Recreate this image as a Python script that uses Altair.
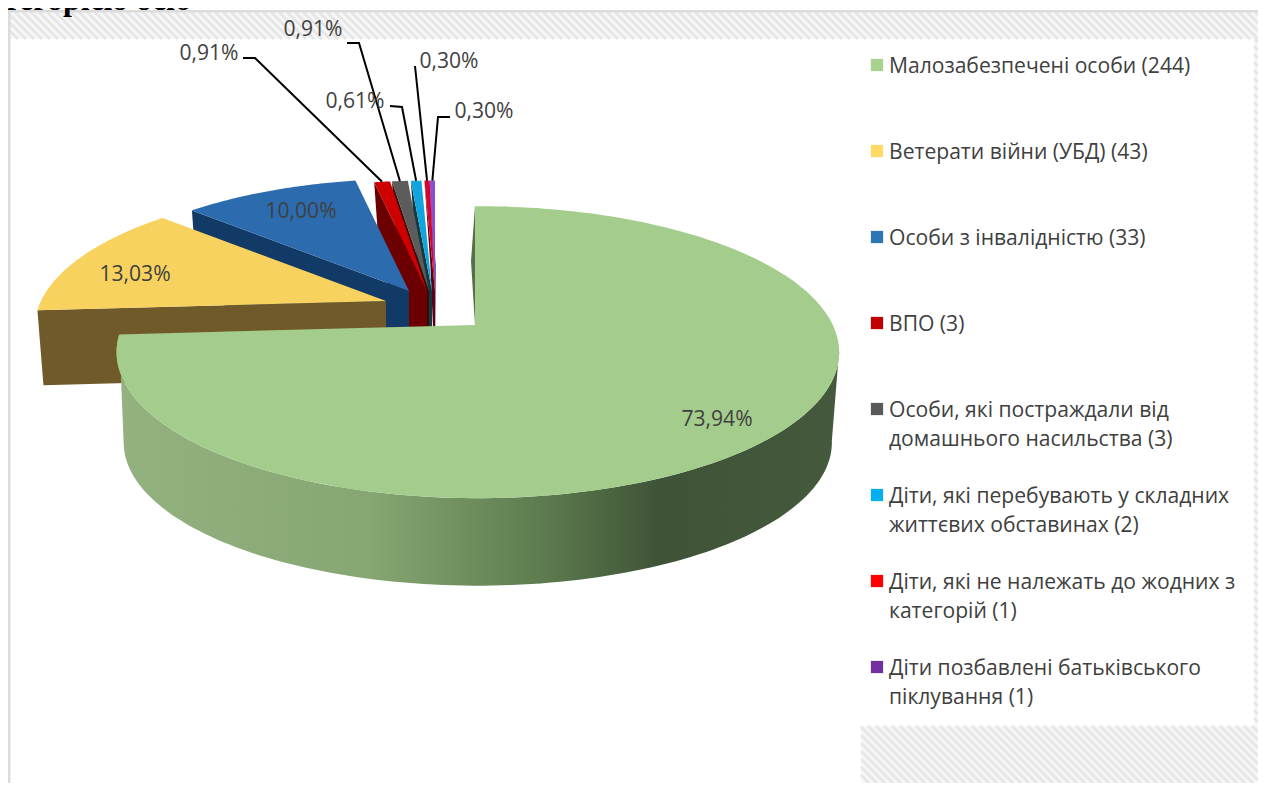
import math
import altair as alt
import pandas as pd

# ---- chart values ----
categories = ["Малозабезпечені особи (244)", "Ветерати війни (УБД) (43)", "Особи з інвалідністю (33)", "ВПО (3)",
              "Особи, які постраждали від\nдомашнього насильства (3)",
              "Діти, які перебувають у складних\nжиттєвих обставинах (2)",
              "Діти, які не належать до жодних з\nкатегорій (1)",
              "Діти позбавлені батьківського\nпіклування (1)"]
counts = [244, 43, 33, 3, 3, 2, 1, 1]
pct_labels = ["73,94%", "13,03%", "10,00%", "0,91%", "0,91%", "0,61%", "0,30%", "0,30%"]
legend_colors = ["#a9d18e", "#ffd966", "#2e75b6", "#c00000", "#595959", "#00b0f0", "#ff0000", "#7030a0"]
top_colors = ["#a4cc8c", "#f8d25f", "#2c6cae", "#cf0000", "#5c5c5c", "#12a4dc", "#d4062e", "#8a4fd0"]
wall_colors = ["#4f6b42", "#705a2a", "#123a66", "#6c0000", "#3a0a0a", "#123a40", "#5a0010", "#401a60"]

# ---- layout (page pixels) ----
W, H = 1258, 783   # chart box end
K = 0.186          # perspective strength
TILT = 0.397       # vertical squash
SKEW = 0.008
apex = [(475, 325), (386, 301), (409, 291), (427, 291), (429, 291), (432, 291), (435, 291), (435, 291)]
radius = [355, 345, 335, 330, 330, 330, 330, 330]
depth = [91, 75, 85, 85, 85, 85, 85, 85]
label_pos = [(717, 420), (135, 275), (301, 212), (209, 54), (313, 30), (355, 102), (449, 62), (484, 112)]
leader_elbows = {3: [(243, 58), (255, 58)], 4: [(347, 43), (359, 43)], 5: [(390, 106), (402, 107)],
                 6: [(415, 66)], 7: [(450, 117), (438, 117)]}
leg_y0, leg_dy, leg_line = 73, 86, 29


def rim(i, deg, r_f=1.0, dy=0.0):
    t = math.radians(deg)
    u, v = math.sin(t), math.cos(t)
    s = 1 / (1 + K * v)
    r = radius[i] * r_f
    if i == 0:
        r *= 1 + SKEW * u
    return apex[i][0] + r * u * s, apex[i][1] + dy - r * TILT * v * s


total = sum(counts)
bounds = [0.0]
for c in counts:
    bounds.append(bounds[-1] + c / total * 360)


def arc(i, a, b, r_f=1.0, dy=0.0, n=60):
    return [rim(i, a + (b - a) * k / n, r_f, dy) for k in range(n + 1)]


X = alt.Scale(domain=[8, W], range=[0, W - 8])
Y = alt.Scale(domain=[8, H], range=[0, H - 8])


def poly(points, fill):
    df = pd.DataFrame({"px": [p[0] for p in points], "py": [p[1] for p in points], "o": range(len(points))})
    return alt.Chart(df).mark_line(fill=fill, strokeWidth=0, strokeOpacity=0, clip=False, interpolate="linear").encode(
        x=alt.X("px:Q", scale=X, axis=None), y=alt.Y("py:Q", scale=Y, axis=None), order="o:Q")


def hatch(x0, y0, x1, y1, period=8):
    rows = []
    h = y1 - y0
    x = x0 - h
    while x < x1:
        ax, ay, bx, by = x, y0, x + h, y1
        if ax < x0:
            ay += x0 - ax
            ax = x0
        if bx > x1:
            by -= bx - x1
            bx = x1
        rows.append({"x": ax, "y": ay, "x2": bx, "y2": by})
        x += period
    return pd.DataFrame(rows)


def hatch_layers(x0, y0, x1, y1):
    bg = poly([(x0, y0), (x1, y0), (x1, y1), (x0, y1)], "#f7f7f7")
    st = alt.Chart(hatch(x0, y0, x1, y1)).mark_rule(color="#e6e6e6", strokeWidth=3).encode(
        x=alt.X("x:Q", scale=X, axis=None), y=alt.Y("y:Q", scale=Y, axis=None), x2="x2:Q", y2="y2:Q")
    return [bg, st]


layers = []
# frame and hatched chart background
layers += hatch_layers(10, 12, W, 39)
layers += hatch_layers(861, 726, W, H)
layers += hatch_layers(1254, 39, W, 726)
layers.append(poly([(8, 10), (W, 10), (W, 12.5), (8, 12.5)], "#dcdcdc"))
layers.append(poly([(8, 10), (10.5, 10), (10.5, H), (8, H)], "#dcdcdc"))

# slices, back to front
for i in range(7, 0, -1):
    a, b = bounds[i], bounds[i + 1]
    ax, ay = apex[i]
    sx, sy = rim(i, a)
    layers.append(poly([(ax, ay), (sx, sy), (sx + 6, sy + depth[i]), (ax, ay + depth[i])], wall_colors[i]))
    layers.append(poly([(ax, ay)] + arc(i, a, b), top_colors[i]))

# green slice: side, start wall, top
a, b = bounds[0], bounds[1]
lower = arc(0, 100, 258, 0.98, depth[0], 120)
upper = arc(0, 100, b, 1.0, 0, 120)
side = alt.Gradient(gradient="linear", x1=0, x2=1, y1=0, y2=0, stops=[
    alt.GradientStop(color="#93b27f", offset=0), alt.GradientStop(color="#86a673", offset=0.35),
    alt.GradientStop(color="#5f7e50", offset=0.58), alt.GradientStop(color="#3f5437", offset=0.75),
    alt.GradientStop(color="#45593c", offset=1)])
layers.append(poly(lower + upper[::-1], side))
sx, sy = rim(0, 0)
layers.append(poly([(sx, sy), (sx - 4, sy + 55), (apex[0][0], apex[0][1])], "#566f48"))
layers.append(poly([apex[0]] + arc(0, a, b, n=180), top_colors[0]))

# leader lines: from the label elbow to the rim middle of the small slices
for i, pts in leader_elbows.items():
    end = rim(i, (bounds[i] + bounds[i + 1]) / 2)
    line = pts + [end]
    df = pd.DataFrame({"px": [p[0] for p in line], "py": [p[1] for p in line], "o": range(len(line))})
    layers.append(alt.Chart(df).mark_line(color="#000000", strokeWidth=2).encode(
        x=alt.X("px:Q", scale=X, axis=None), y=alt.Y("py:Q", scale=Y, axis=None), order="o:Q"))

FONT = "Open Sans"
TXT = "#404040"
FS = 21.1
# percentage labels
lab = pd.DataFrame({"t": pct_labels, "px": [p[0] for p in label_pos], "py": [p[1] for p in label_pos]})
layers.append(alt.Chart(lab).mark_text(font=FONT, fontSize=FS, color=TXT, align="center", baseline="middle").encode(
    x=alt.X("px:Q", scale=X, axis=None), y=alt.Y("py:Q", scale=Y, axis=None), text="t:N"))

# legend
leg = pd.DataFrame({"cat": categories, "col": legend_colors, "row": range(len(categories))})
leg["py"] = leg_y0 + leg_dy * leg["row"]
leg["sy"] = leg["py"] - 8
leg["sx"] = 877
leg["tx"] = 889
layers.append(alt.Chart(leg).mark_point(shape="square", filled=True, size=150, opacity=1).encode(
    x=alt.X("sx:Q", scale=X, axis=None), y=alt.Y("sy:Q", scale=Y, axis=None),
    color=alt.Color("col:N", scale=None, legend=None)))
layers.append(alt.Chart(leg).mark_text(font=FONT, fontSize=FS, color=TXT, align="left", baseline="alphabetic",
                                       lineBreak="\n", lineHeight=leg_line).encode(
    x=alt.X("tx:Q", scale=X, axis=None), y=alt.Y("py:Q", scale=Y, axis=None), text="cat:N"))

# heading: the reference shows only its lower edge at the very top of the page
head = pd.DataFrame({"t": ["категорією осіб"], "px": [191], "py": [10]})
layers.append(alt.Chart(head).mark_text(font="Liberation Serif", fontWeight="bold", fontSize=32, color="#000000",
                                        align="right", baseline="alphabetic").encode(
    x=alt.X("px:Q", scale=X, axis=None), y=alt.Y("py:Q", scale=Y, axis=None), text="t:N"))

chart = alt.layer(*layers).properties(
    width=W - 8, height=H - 8, padding=0, autosize=alt.AutoSizeParams(type="none"), background="#ffffff"
).configure_view(stroke=None)
chart.save("out.html", embed_options={"renderer": "svg", "actions": False})
